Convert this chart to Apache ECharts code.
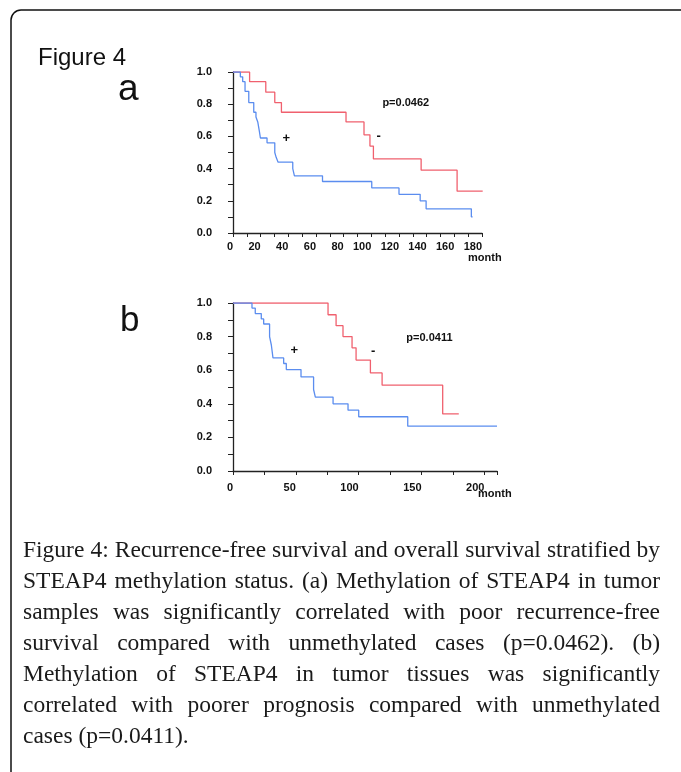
<!DOCTYPE html>
<html>
<head>
<meta charset="utf-8">
<script src="https://cdn.jsdelivr.net/npm/echarts@6/dist/echarts.min.js"></script>
<style>
html, body { margin: 0; padding: 0; background: #fff; }
#main { width: 681px; height: 772px; }
</style>
</head>
<body>
<div id="main"></div>
<script>
// (a) recurrence-free survival, months -> survival after the step
var aMinusTime = [0, 12, 23.7, 30.2, 35, 81.7, 94.7, 99, 101.5, 136, 162, 180.5];
var aMinusSurv = [1, 0.94, 0.875, 0.81, 0.75, 0.69, 0.61, 0.54, 0.46, 0.39, 0.26, 0.26];
var aPlusTime = [0, 5.3, 7, 8.7, 11.4, 15, 16.6, 17.9, 19.1, 19.8, 24.6, 30.2, 31.2, 32.6, 43.2, 44.4, 64.7, 100.3, 120, 135.3, 139.6, 172.3, 173.2];
var aPlusSurv = [1, 0.97, 0.94, 0.88, 0.81, 0.75, 0.72, 0.69, 0.63, 0.59, 0.56, 0.5, 0.47, 0.44, 0.40, 0.355, 0.32, 0.28, 0.24, 0.20, 0.15, 0.10, 0.10];

// (b) overall survival
var bMinusTime = [0, 75.6, 82, 87.5, 94.7, 97.9, 109.3, 118.6, 166.8, 179.6];
var bMinusSurv = [1, 0.93, 0.865, 0.80, 0.733, 0.66, 0.584, 0.511, 0.34, 0.34];
var bPlusTime = [0, 15.1, 17.7, 22.5, 24.4, 29.1, 30.5, 31.8, 40.3, 42.4, 54.1, 64.1, 65.5, 79.6, 91.5, 100, 139, 210];
var bPlusSurv = [1, 0.97, 0.937, 0.905, 0.875, 0.80, 0.75, 0.673, 0.64, 0.604, 0.56, 0.485, 0.44, 0.40, 0.362, 0.323, 0.267, 0.267];

var captionLines = [
  'Figure 4: Recurrence-free survival and overall survival stratified by',
  'STEAP4 methylation status. (a) Methylation of STEAP4 in tumor',
  'samples was significantly correlated with poor recurrence-free',
  'survival compared with unmethylated cases (p=0.0462). (b)',
  'Methylation of STEAP4 in tumor tissues was significantly',
  'correlated with poorer prognosis compared with unmethylated',
  'cases (p=0.0411).'
];

var RED = '#f0606e';
var BLUE = '#5b8def';
var LBL = { color: '#111', fontSize: 11, fontWeight: 'bold', fontFamily: 'Liberation Sans, Arial, sans-serif' };

function pairs(t, s) {
  return t.map(function (v, i) { return [v, s[i]]; });
}

function xAxisOf(idx, max, step, every, labelMargin, namePad, nameGap) {
  return {
    gridIndex: idx, type: 'value', min: 0, max: max, interval: step,
    axisLine: { show: true, onZero: false, lineStyle: { color: '#222', width: 1.3 } },
    axisTick: { show: true, length: 4, lineStyle: { color: '#222', width: 1 } },
    axisLabel: Object.assign({
      interval: 0, showMinLabel: true, showMaxLabel: true, align: 'right', margin: labelMargin,
      formatter: function (v) { return v % every === 0 ? String(v) : ''; }
    }, LBL),
    splitLine: { show: false },
    name: 'month', nameLocation: 'end', nameGap: nameGap, nameMoveOverlap: false,
    nameTextStyle: Object.assign({ verticalAlign: 'top', padding: [namePad, 0, 0, 0] }, LBL)
  };
}

function yAxisOf(idx) {
  return {
    gridIndex: idx, type: 'value', min: 0, max: 1, interval: 0.1,
    axisLine: { show: true, lineStyle: { color: '#222', width: 1.3 } },
    axisTick: { show: true, length: 5, lineStyle: { color: '#222', width: 1 } },
    axisLabel: Object.assign({
      interval: 0, showMinLabel: true, showMaxLabel: true, margin: 21,
      formatter: function (v) { return Math.round(v * 10) % 2 === 0 ? v.toFixed(1) : ''; }
    }, LBL),
    splitLine: { show: false }
  };
}

function kmLine(x, y, t, s, color) {
  return {
    type: 'line', xAxisIndex: x, yAxisIndex: y, step: 'end', symbol: 'none',
    data: pairs(t, s), lineStyle: { color: color, width: 1.3 }, silent: true, animation: false
  };
}

var myChart = echarts.init(document.getElementById('main'));
myChart.setOption({
  backgroundColor: '#fff',
  animation: false,
  grid: [
    { left: 233, top: 72, width: 249, height: 161 },
    { left: 233, top: 303, width: 264, height: 168 }
  ],
  xAxis: [xAxisOf(0, 180, 10, 20, 8, 19, -14), xAxisOf(1, 210, 25, 50, 11, 17, -19)],
  yAxis: [yAxisOf(0), yAxisOf(1)],
  series: [
    kmLine(0, 0, aMinusTime, aMinusSurv, RED),
    kmLine(0, 0, aPlusTime, aPlusSurv, BLUE),
    kmLine(1, 1, bMinusTime, bMinusSurv, RED),
    kmLine(1, 1, bPlusTime, bPlusSurv, BLUE)
  ]
});

// annotations, placed in data coordinates
var notes = [
  { g: 0, at: [108, 0.81], text: 'p=0.0462', align: 'left', size: 11 },
  { g: 0, at: [38.6, 0.59], text: '+', align: 'center', size: 13 },
  { g: 0, at: [105.3, 0.60], text: '-', align: 'center', size: 13 },
  { g: 1, at: [137.9, 0.79], text: 'p=0.0411', align: 'left', size: 11 },
  { g: 1, at: [48.8, 0.717], text: '+', align: 'center', size: 13 },
  { g: 1, at: [111.4, 0.71], text: '-', align: 'center', size: 13 }
];
var graphics = [];
notes.forEach(function (n) {
  var p = myChart.convertToPixel({ gridIndex: n.g }, n.at);
  graphics.push({
    type: 'text', x: p[0], y: p[1], silent: true,
    style: { text: n.text, fill: '#111', align: n.align, verticalAlign: 'middle',
      font: 'bold ' + n.size + 'px "Liberation Sans", Arial, sans-serif' }
  });
});

// frame and panel labels
graphics.push({
  type: 'rect', silent: true,
  shape: { x: 11, y: 10, width: 720, height: 820, r: 10 },
  style: { fill: 'none', stroke: '#111', lineWidth: 1.5 }
});
graphics.push({ type: 'text', x: 38, y: 58, silent: true,
  style: { text: 'Figure 4', fill: '#111', verticalAlign: 'middle', font: '24px "Liberation Sans", Arial, sans-serif' } });
graphics.push({ type: 'text', x: 118, y: 90, silent: true,
  style: { text: 'a', fill: '#111', verticalAlign: 'middle', font: '37px "Liberation Sans", Arial, sans-serif' } });
graphics.push({ type: 'text', x: 120, y: 321, silent: true,
  style: { text: 'b', fill: '#111', verticalAlign: 'middle', font: '35px "Liberation Sans", Arial, sans-serif' } });

// justified caption
var capFont = '23.5px "Liberation Serif", "Times New Roman", serif';
var ctx = document.createElement('canvas').getContext('2d');
ctx.font = capFont;
var capLeft = 23, capRight = 660, capTop = 551, capStep = 31;
captionLines.forEach(function (line, li) {
  var words = line.split(' ');
  var widths = words.map(function (w) { return ctx.measureText(w).width; });
  var total = widths.reduce(function (a, b) { return a + b; }, 0);
  var last = li === captionLines.length - 1;
  var gap = last ? ctx.measureText(' ').width : (capRight - capLeft - total) / (words.length - 1);
  var x = capLeft;
  words.forEach(function (w, i) {
    graphics.push({ type: 'text', x: x, y: capTop + li * capStep, silent: true,
      style: { text: w, fill: '#1a1a1a', verticalAlign: 'middle', font: capFont } });
    x += widths[i] + gap;
  });
});

myChart.setOption({ graphic: graphics });
</script>
</body>
</html>
